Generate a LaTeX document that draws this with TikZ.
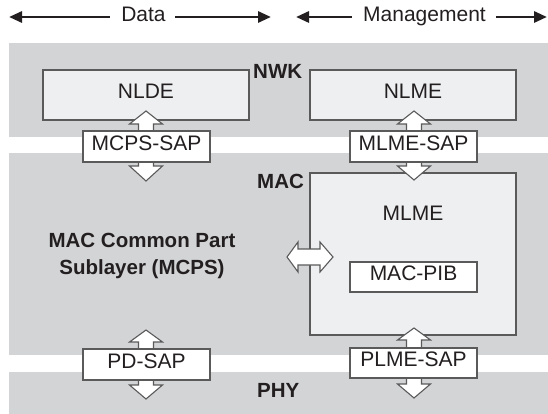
\documentclass[tikz,border=0pt]{standalone}
\usepackage{fontspec}
\setmainfont{Liberation Sans}
\usetikzlibrary{arrows.meta}
\definecolor{band}{HTML}{D3D4D6}
\definecolor{boxfill}{HTML}{EEEFF1}
\definecolor{edge}{HTML}{5A5A5A}
\definecolor{ink}{HTML}{231F20}
\tikzset{
 txt/.style={inner sep=0pt, text height=0.716em, text depth=0pt, font=\fontsize{21}{25}\selectfont, text=ink},
 lbl/.style={txt, font=\bfseries\fontsize{20.5}{25}\selectfont},
 layerbox/.style={draw=edge, line width=1.6pt, fill=boxfill, txt},
 sapbox/.style={draw=edge, line width=1.6pt, fill=white, txt, minimum width=127pt, minimum height=31pt},
 bandfill/.style={fill=band, draw=none},
 dblarrow/.style={draw=edge, line width=1.1pt, fill=white, line join=miter},
 flowline/.style={line width=2.9pt, draw=ink, -{Triangle[length=13pt,width=11pt]}},
}
\newcommand\vdarr[5]{% cx, top tip, top base, bottom base, bottom tip
 \draw[dblarrow] ({#1},{#2}) -- ({#1+16.5},{#3}) -- ({#1+7.5},{#3}) -- ({#1+7.5},{#4}) -- ({#1+16.5},{#4}) -- ({#1},{#5}) -- ({#1-16.5},{#4}) -- ({#1-7.5},{#4}) -- ({#1-7.5},{#3}) -- ({#1-16.5},{#3}) -- cycle;}
\begin{document}
\begin{tikzpicture}[x=1pt,y=-1pt]
\useasboundingbox (0,0) rectangle (548,414);
% flow labels
\node[txt] (data) at (143.5,17.5) {Data};
\coordinate (dl) at (9,17);
\coordinate (dr) at (271,17);
\draw[flowline] ([xshift=-11.5pt,yshift=0.5pt]data.west) -- (dl);
\draw[flowline] ([xshift=9.5pt,yshift=0.5pt]data.east) -- (dr);
\node[txt] (mgmt) at (424.5,17.5) {Management};
\coordinate (ml) at (296,17);
\coordinate (mr) at (547,17);
\draw[flowline] ([xshift=-11pt,yshift=0.5pt]mgmt.west) -- (ml);
\draw[flowline] ([xshift=10pt,yshift=0.5pt]mgmt.east) -- (mr);
% bands
\fill[bandfill] (9,43) rectangle (548,137);
\fill[bandfill] (9,153) rectangle (548,355);
\fill[bandfill] (9,372) rectangle (548,414);
% layer labels
\node[lbl, anchor=west] (nwk) at (253,75) {NWK};
\node[lbl, anchor=west] (mac) at (257,185) {MAC};
\node[lbl, anchor=west] (phy) at (257,394) {PHY};
\node[lbl] (mcps1) at (142,244) {MAC Common Part};
\node[lbl] (mcps2) at (142,271) {Sublayer (MCPS)};
% layer boxes
\node[layerbox, minimum width=206pt, minimum height=50pt] (nlde) at (146,95) {NLDE};
\node[layerbox, minimum width=206pt, minimum height=50pt] (nlme) at (413,95) {NLME};
\node[layerbox, minimum width=206pt, minimum height=162pt] (mlme) at (413,254) {};
\node[txt] (mlmet) at (413,217) {MLME};
\node[sapbox, minimum height=30pt] (pib) at (413.5,277) {MAC-PIB};
% double arrows
\vdarr{146}{111}{124}{166}{181}
\vdarr{414}{111}{124}{166}{180}
\vdarr{146}{330}{342}{385}{399}
\vdarr{414}{328}{340}{384}{398}
\draw[dblarrow] (287,257) -- (298,242) -- (298,249) -- (320,249) -- (320,242) -- (333,257) -- (320,272) -- (320,265) -- (298,265) -- (298,272) -- cycle;
% SAP boxes
\node[sapbox] (mcpssap) at (146.5,146.5) {MCPS-SAP};
\node[sapbox] (mlmesap) at (413.5,146.5) {MLME-SAP};
\node[sapbox] (pdsap) at (146.5,364.5) {PD-SAP};
\node[sapbox, minimum height=30pt] (plmesap) at (413.5,363) {PLME-SAP};
\end{tikzpicture}
\end{document}
